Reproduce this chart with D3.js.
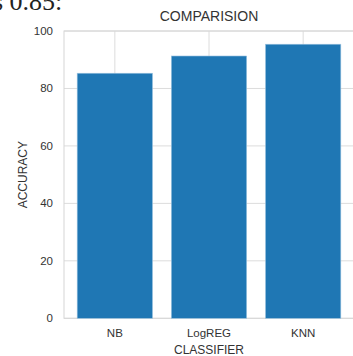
<!DOCTYPE html>
<html><head><meta charset="utf-8">
<script src="https://cdn.jsdelivr.net/npm/d3@7"></script>
<style>body{margin:0;background:#fff}svg{display:block}</style>
</head><body>
<script>
const categories = ["NB", "LogREG", "KNN"];
const accuracy = [85.3, 91.3, 95.4];
const yTicks = [0, 20, 40, 60, 80, 100];

const W = 353, H = 356;
const svg = d3.select("body").append("svg").attr("width", W).attr("height", H)
  .style("font-family", "'Liberation Sans', Arial, sans-serif");

// text fragment cropped at the top edge (as in the reference)
svg.append("text").attr("x", -7).attr("y", 10).attr("font-family", "'Liberation Serif', serif")
  .attr("font-size", 26).attr("fill", "#222").text("s 0.85:");

const plotL = 64, plotR = 354, plotT = 31, plotB = 318.3;
// bar centers at 0,1,2 ; limits -0.54..2.54
const x = d3.scaleLinear().domain([-0.54, 2.54]).range([plotL, plotR]);
const y = d3.scaleLinear().domain([0, 100]).range([plotB, plotT]);

const g = svg.append("g");
// grid
g.selectAll(".hg").data(yTicks).join("line")
  .attr("x1", plotL).attr("x2", plotR).attr("y1", d => y(d)).attr("y2", d => y(d))
  .attr("stroke", "#dcdcdc").attr("stroke-width", 1);
g.selectAll(".vg").data(categories).join("line")
  .attr("x1", (d, i) => x(i)).attr("x2", (d, i) => x(i)).attr("y1", plotT).attr("y2", plotB)
  .attr("stroke", "#dcdcdc").attr("stroke-width", 1);
// spines
g.append("rect").attr("x", plotL).attr("y", plotT).attr("width", plotR - plotL).attr("height", plotB - plotT)
  .attr("fill", "none").attr("stroke", "#d6d6d6").attr("stroke-width", 1);

// bars
g.selectAll(".bar").data(accuracy).join("rect")
  .attr("x", (d, i) => x(i - 0.4)).attr("width", (d, i) => x(i + 0.4) - x(i - 0.4))
  .attr("y", d => y(d)).attr("height", d => y(0) - y(d))
  .attr("fill", "#1f77b4").attr("stroke", "#9cc3e0").attr("stroke-width", 0.6);

// y ticks
g.selectAll(".yt").data(yTicks).join("text")
  .attr("x", plotL - 11).attr("y", d => y(d)).attr("dy", "0.35em")
  .attr("text-anchor", "end").attr("font-size", 11.5).attr("fill", "#333").text(d => d);
// x ticks
g.selectAll(".xt").data(categories).join("text")
  .attr("x", (d, i) => x(i)).attr("y", 337)
  .attr("text-anchor", "middle").attr("font-size", 11.5).attr("fill", "#333").text(d => d);

// labels
svg.append("text").attr("x", x(1)).attr("y", 354).attr("text-anchor", "middle")
  .attr("font-size", 12).attr("fill", "#333").text("CLASSIFIER");
svg.append("text").attr("transform", `translate(27,${(plotT + plotB) / 2}) rotate(-90)`)
  .attr("text-anchor", "middle").attr("font-size", 12).attr("fill", "#333").text("ACCURACY");
svg.append("text").attr("x", x(1)).attr("y", 21).attr("text-anchor", "middle")
  .attr("font-size", 14).attr("fill", "#333").text("COMPARISION");
</script>
</body></html>
